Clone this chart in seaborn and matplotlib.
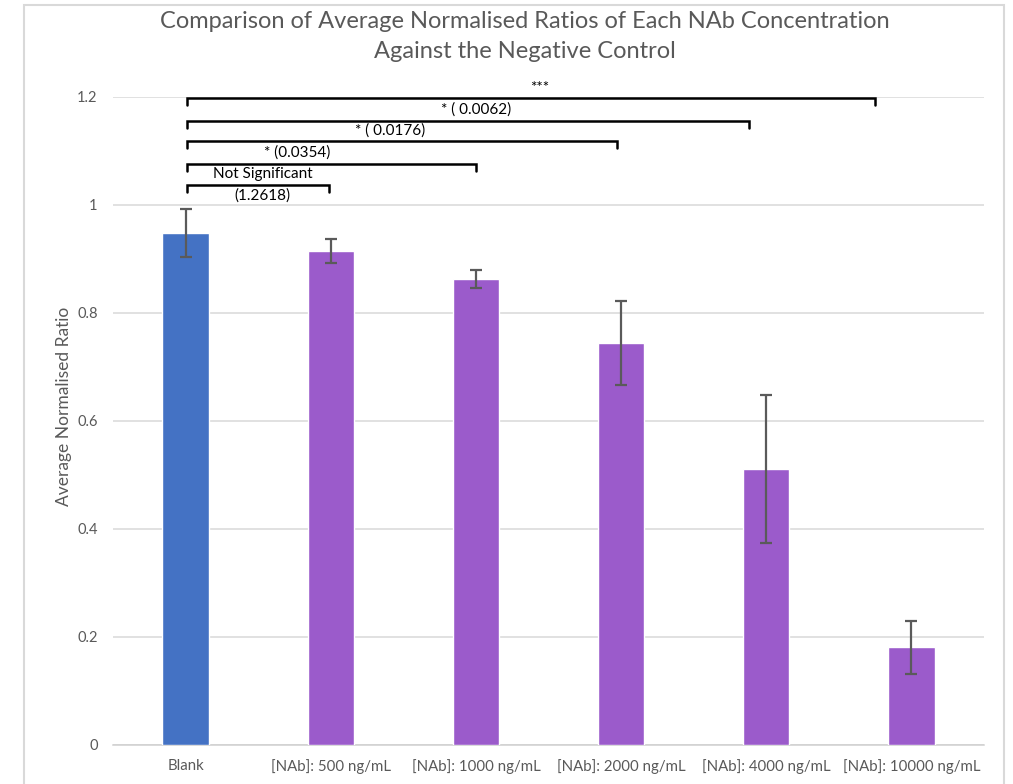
import matplotlib
matplotlib.use("Agg")
import matplotlib.pyplot as plt
from matplotlib.patches import Rectangle
import seaborn as sns
import pandas as pd

# Group means and their error margins
categories = ["Blank", "[NAb]: 500 ng/mL", "[NAb]: 1000 ng/mL", "[NAb]: 2000 ng/mL",
              "[NAb]: 4000 ng/mL", "[NAb]: 10000 ng/mL"]
means = [0.948, 0.915, 0.863, 0.744, 0.511, 0.181]
errors = [0.045, 0.022, 0.016, 0.078, 0.137, 0.049]
bar_colors = ["#4472C4", "#9B5BCB", "#9B5BCB", "#9B5BCB", "#9B5BCB", "#9B5BCB"]

# y ticks
ytick_values = [0, 0.2, 0.4, 0.6, 0.8, 1.0, 1.2]
ytick_labels = ["0", "0.2", "0.4", "0.6", "0.8", "1", "1.2"]

# Significance brackets against the Blank group
bracket_levels = [1.198, 1.156, 1.119, 1.076, 1.037]
bracket_left = [0.01, 0.01, 0.01, 0.01, 0.01]
bracket_right = [4.75, 3.88, 2.97, 2.0, 0.99]
bracket_texts = ["***", "* ( 0.0062)", "* ( 0.0176)", "* (0.0354)", "Not Significant"]
bracket_text_x = [2.44, 2.0, 1.41, 0.77, 0.53]
bracket_text_y = [1.217, 1.176, 1.138, 1.098, 1.057]
extra_text = "(1.2618)"
extra_text_xy = (0.53, 1.018)

sns.set_theme(style="white")
plt.rcParams["font.family"] = ["Lato", "DejaVu Sans"]

df = pd.DataFrame({"group": categories, "ratio": means})

fig = plt.figure(figsize=(10.13, 7.84), dpi=100)
ax = fig.add_axes([113 / 1013, 39 / 784, 871 / 1013, 648 / 784])

sns.barplot(data=df, x="group", y="ratio", hue="group", palette=bar_colors,
            width=0.32, errorbar=None, legend=False, ax=ax, saturation=1,
            zorder=3)
ax.errorbar(range(len(categories)), means, yerr=errors, fmt="none",
            ecolor="#5a5a5a", elinewidth=1.6, capsize=4.5, capthick=1.6, zorder=4)

ax.set_xlim(-0.5, len(categories) - 0.5)
ax.set_ylim(0, 1.2)
ax.set_yticks(ytick_values)
ax.set_yticklabels(ytick_labels)
ax.yaxis.grid(True, color="#d9d9d9", linewidth=1.1, zorder=0)
ax.set_axisbelow(True)
for side in ["left", "right", "top"]:
    ax.spines[side].set_visible(False)
ax.spines["bottom"].set_color("#d0d0d0")
ax.spines["bottom"].set_linewidth(1.1)
ax.tick_params(axis="both", length=0, colors="#595959")
ax.tick_params(axis="x", pad=10, labelsize=10.8)
ax.tick_params(axis="y", pad=11, labelsize=10.5)
ax.set_xlabel("")
ax.set_ylabel("Average Normalised Ratio", fontsize=12.5, color="#595959", labelpad=4)
ax.yaxis.label.set_y(0.522)

# significance brackets
tick_h = 0.013
for lvl, x0, x1, txt, tx, ty in zip(bracket_levels, bracket_left, bracket_right,
                                    bracket_texts, bracket_text_x, bracket_text_y):
    ax.plot([x0, x0, x1, x1], [lvl - tick_h, lvl, lvl, lvl - tick_h],
            color="black", linewidth=1.8, clip_on=False, zorder=5,
            solid_joinstyle="miter")
    ax.text(tx, ty, txt, ha="center", va="center", fontsize=11, color="black",
            clip_on=False)
ax.text(extra_text_xy[0], extra_text_xy[1], extra_text, ha="center", va="center",
        fontsize=11, color="black")

fig.text(525 / 1013, 1 - 22 / 784,
         "Comparison of Average Normalised Ratios of Each NAb Concentration",
         ha="center", va="center", fontsize=17, color="#595959")
fig.text(525 / 1013, 1 - 51 / 784, "Against the Negative Control",
         ha="center", va="center", fontsize=17, color="#595959")

# chart area border
fig.patches.append(Rectangle((24 / 1013, -0.05), (1004 - 24) / 1013, 1.05 - 5 / 784,
                             transform=fig.transFigure, fill=False,
                             edgecolor="#d9d9d9", linewidth=1.5))

fig.savefig("out.png", dpi=100)
